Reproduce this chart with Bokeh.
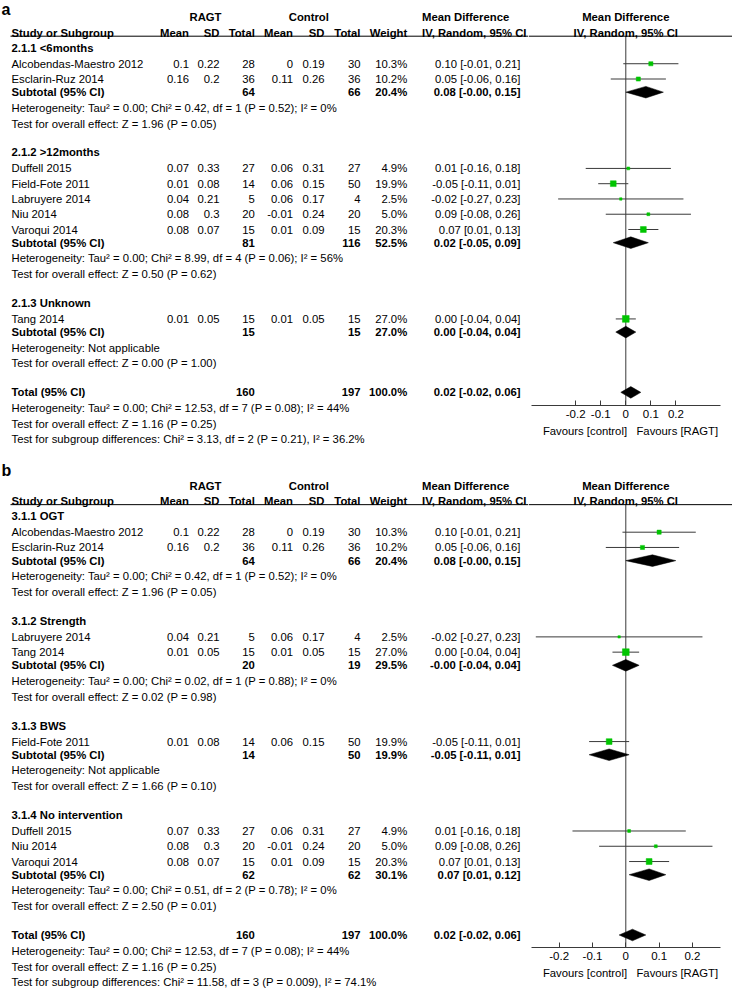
import math
from bokeh.plotting import figure
from bokeh.layouts import row, column
from bokeh.models import Range1d, FixedTicker, CustomJSTickFormatter, ColumnDataSource, Span
from bokeh.core.properties import value
from bokeh.embed import file_html
from bokeh.resources import INLINE

FONT = "Liberation Sans"
FS = "11.3px"
GREEN = "#00c400"
LINE = "#3a3a3a"

# ---------------- data ----------------
studies = ["Alcobendas-Maestro 2012", "Esclarin-Ruz 2014", "Duffell 2015", "Field-Fote 2011",
           "Labruyere 2014", "Niu 2014", "Varoqui 2014", "Tang 2014"]
ragt_mean = [0.1, 0.16, 0.07, 0.01, 0.04, 0.08, 0.08, 0.01]
ragt_sd = [0.22, 0.2, 0.33, 0.08, 0.21, 0.3, 0.07, 0.05]
ragt_n = [28, 36, 27, 14, 5, 20, 15, 15]
ctrl_mean = [0, 0.11, 0.06, 0.06, 0.06, -0.01, 0.01, 0.01]
ctrl_sd = [0.19, 0.26, 0.31, 0.15, 0.17, 0.24, 0.09, 0.05]
ctrl_n = [30, 36, 27, 50, 4, 20, 15, 15]
weight = [10.3, 10.2, 4.9, 19.9, 2.5, 5.0, 20.3, 27.0]
md = [0.10, 0.05, 0.01, -0.05, -0.02, 0.09, 0.07, 0.00]
ci_lo = [-0.01, -0.06, -0.16, -0.11, -0.27, -0.08, 0.01, -0.04]
ci_hi = [0.21, 0.16, 0.18, 0.01, 0.23, 0.26, 0.13, 0.04]

# panel a: subgroups by time since injury
a_groups = ["2.1.1 <6months", "2.1.2 >12months", "2.1.3 Unknown"]
a_members = [[0, 1], [2, 3, 4, 5, 6], [7]]
a_sub_n1 = [64, 81, 15]
a_sub_n2 = [66, 116, 15]
a_sub_w = [20.4, 52.5, 27.0]
a_sub_md = [0.08, 0.02, 0.00]
a_sub_lo = [-0.0, -0.05, -0.04]
a_sub_hi = [0.15, 0.09, 0.04]
a_tau = [0.00, 0.00, None]
a_chi = [0.42, 8.99, None]
a_df = [1, 4, None]
a_p = [0.52, 0.06, None]
a_i2 = [0, 56, None]
a_z = [1.96, 0.50, 0.00]
a_zp = [0.05, 0.62, 1.00]
a_subdiff = (3.13, 2, 0.21, 36.2)

# panel b: subgroups by control intervention
b_groups = ["3.1.1 OGT", "3.1.2 Strength", "3.1.3 BWS", "3.1.4 No intervention"]
b_members = [[0, 1], [4, 7], [3], [2, 5, 6]]
b_sub_n1 = [64, 20, 14, 62]
b_sub_n2 = [66, 19, 50, 62]
b_sub_w = [20.4, 29.5, 19.9, 30.1]
b_sub_md = [0.08, -0.0, -0.05, 0.07]
b_sub_lo = [-0.0, -0.04, -0.11, 0.01]
b_sub_hi = [0.15, 0.04, 0.01, 0.12]
b_tau = [0.00, 0.00, None, 0.00]
b_chi = [0.42, 0.02, None, 0.51]
b_df = [1, 1, None, 2]
b_p = [0.52, 0.88, None, 0.78]
b_i2 = [0, 0, None, 0]
b_z = [1.96, 0.02, 1.66, 2.50]
b_zp = [0.05, 0.98, 0.10, 0.01]
b_subdiff = (11.58, 3, 0.009, 74.1)

# overall
tot_n1, tot_n2, tot_w = 160, 197, 100.0
tot_md, tot_lo, tot_hi = 0.02, -0.02, 0.06
tot_tau, tot_chi, tot_df, tot_p, tot_i2 = 0.00, 12.53, 7, 0.08, 44
tot_z, tot_zp = 1.16, 0.25

ticks = [-0.2, -0.1, 0, 0.1, 0.2]


# ---------------- helpers ----------------
def fp(p):
    return f"{p:.2f}" if p >= 0.01 else f"{p:.3f}"

def het_text(tau, chi, df, p, i2):
    if chi is None:
        return "Heterogeneity: Not applicable"
    return f"Heterogeneity: Tau\u00b2 = {tau:.2f}; Chi\u00b2 = {chi:.2f}, df = {df} (P = {fp(p)}); I\u00b2 = {i2}%"

def z_text(z, p):
    return f"Test for overall effect: Z = {z:.2f} (P = {fp(p)})"

def ci_text(m, lo, hi):
    return f"{m:.2f} [{lo:.2f}, {hi:.2f}]"

def Y(y):
    return 30 + (y - 30) * 0.998

# column x positions (page pixels)
X_NAME = 11
X_M1, X_SD1, X_N1 = 188.5, 219, 254.3
X_M2, X_SD2, X_N2 = 292.5, 324, 360
X_W = 406.7
X_CI = 520
X_MDH = 421.5

PAGE_W = 732
TAB_W = 528               # table figure width (page x 0 .. 528)
FOR_W = PAGE_W - TAB_W    # forest figure width (page x 528 .. 732)
TOTAL_H = 990
SPLIT = 455               # page y where panel b's forest figure starts

items = {}

def T(x, y, s, align="left", bold=False, size=FS, baseline="middle"):
    key = (align, bold, size, baseline)
    d = items.setdefault(key, {"x": [], "y": [], "text": []})
    d["x"].append(x); d["y"].append(y); d["text"].append(s)


def build_panel(label, label_y, y_header, groups, members, sn1, sn2, sw, smd, slo, shi,
                tau, chi, dfs, ps, i2s, zs, zps, subdiff, axis_off):
    rows = []
    T(1, label_y, label, bold=True, size="16px", baseline="top")
    yh = Y(y_header)
    ytop = Y(y_header - 15.6)
    T(205, ytop, "RAGT", align="center", bold=True)
    T(308.3, ytop, "Control", align="center", bold=True)
    T(X_MDH, ytop, "Mean Difference", bold=True)
    T(X_NAME, yh, "Study or Subgroup", bold=True)
    for x, s in [(X_M1, "Mean"), (X_SD1, "SD"), (X_N1, "Total"), (X_M2, "Mean"),
                 (X_SD2, "SD"), (X_N2, "Total"), (X_W, "Weight")]:
        T(x, yh, s, align="right", bold=True)
    T(X_MDH, yh, "IV, Random, 95% CI", bold=True)
    underline = Y(y_header + 3.4)

    y = y_header + 15
    for gi, g in enumerate(groups):
        if gi > 0:
            y += 29
        T(X_NAME, Y(y), g, bold=True)
        y += 16
        for k, si in enumerate(members[gi]):
            if k > 0:
                y += 15.3
            yy = Y(y)
            T(X_NAME, yy, studies[si])
            T(X_M1, yy, f"{ragt_mean[si]:g}", align="right")
            T(X_SD1, yy, f"{ragt_sd[si]:g}", align="right")
            T(X_N1, yy, f"{ragt_n[si]}", align="right")
            T(X_M2, yy, f"{ctrl_mean[si]:g}", align="right")
            T(X_SD2, yy, f"{ctrl_sd[si]:g}", align="right")
            T(X_N2, yy, f"{ctrl_n[si]}", align="right")
            T(X_W, yy, f"{weight[si]:.1f}%", align="right")
            T(X_CI, yy, ci_text(md[si], ci_lo[si], ci_hi[si]), align="right")
            rows.append(("study", yy, si))
        y += 13.2
        yy = Y(y)
        T(X_NAME, yy, "Subtotal (95% CI)", bold=True)
        T(X_N1, yy, f"{sn1[gi]}", align="right", bold=True)
        T(X_N2, yy, f"{sn2[gi]}", align="right", bold=True)
        T(X_W, yy, f"{sw[gi]:.1f}%", align="right", bold=True)
        T(X_CI, yy, ci_text(smd[gi], slo[gi], shi[gi]), align="right", bold=True)
        rows.append(("diamond", yy, (smd[gi], slo[gi], shi[gi])))
        y += 15.6
        T(X_NAME, Y(y), het_text(tau[gi], chi[gi], dfs[gi], ps[gi], i2s[gi]))
        y += 15.8
        T(X_NAME, Y(y), z_text(zs[gi], zps[gi]))
    y += 29
    yy = Y(y)
    T(X_NAME, yy, "Total (95% CI)", bold=True)
    T(X_N1, yy, f"{tot_n1}", align="right", bold=True)
    T(X_N2, yy, f"{tot_n2}", align="right", bold=True)
    T(X_W, yy, f"{tot_w:.1f}%", align="right", bold=True)
    T(X_CI, yy, ci_text(tot_md, tot_lo, tot_hi), align="right", bold=True)
    rows.append(("diamond", yy, (tot_md, tot_lo, tot_hi)))
    axis_y = round(Y(y + axis_off))
    y += 16
    T(X_NAME, Y(y), het_text(tot_tau, tot_chi, tot_df, tot_p, tot_i2))
    y += 15.7
    T(X_NAME, Y(y), z_text(tot_z, tot_zp))
    y += 15
    c, d, p, i2 = subdiff
    T(X_NAME, Y(y), f"Test for subgroup differences: Chi\u00b2 = {c:.2f}, df = {d} (P = {fp(p)}), I\u00b2 = {i2:.1f}%")
    return rows, underline, axis_y, ytop, yh


rows_a, ul_a, ax_a, ytop_a, yh_a = build_panel(
    "a", 0, 32.3, a_groups, a_members, a_sub_n1, a_sub_n2, a_sub_w, a_sub_md, a_sub_lo, a_sub_hi,
    a_tau, a_chi, a_df, a_p, a_i2, a_z, a_zp, a_subdiff, 13)
rows_b, ul_b, ax_b, ytop_b, yh_b = build_panel(
    "b", Y(462), 501.7, b_groups, b_members, b_sub_n1, b_sub_n2, b_sub_w, b_sub_md, b_sub_lo, b_sub_hi,
    b_tau, b_chi, b_df, b_p, b_i2, b_z, b_zp, b_subdiff, 13)

# ---------------- table figure ----------------
tab = figure(width=TAB_W, height=TOTAL_H, x_range=Range1d(0, TAB_W), y_range=Range1d(TOTAL_H, 0),
             toolbar_location=None, output_backend="svg", min_border=0,
             x_axis_location=None, y_axis_location=None)
tab.grid.visible = False
tab.outline_line_color = None
tab.background_fill_color = "white"
tab.border_fill_color = "white"

for (align, bold, size, baseline), d in items.items():
    tab.text(x="x", y="y", text="text", source=ColumnDataSource(d), text_align=align,
             text_baseline=baseline, text_font=value(FONT), text_font_size=size,
             text_font_style="bold" if bold else "normal", text_color="#000000")

tab.segment(x0=[10, 10], y0=[ul_a, ul_b], x1=[TAB_W, TAB_W], y1=[ul_a, ul_b],
            line_color="#000000", line_width=1)


# ---------------- forest figures ----------------
def forest(rows, ul, axis_y, top, height, zero_px, px_per_unit, ytop, yh):
    left_px, right_px = TAB_W, PAGE_W
    x0 = (left_px - zero_px) / px_per_unit
    x1 = (right_px - zero_px) / px_per_unit
    p = figure(width=FOR_W, height=height, x_range=Range1d(x0, x1), y_range=Range1d(axis_y, top),
               toolbar_location=None, output_backend="svg", min_border=0,
               min_border_bottom=int(top + height - axis_y),
               x_axis_location="below", y_axis_location=None)
    p.grid.visible = False
    p.outline_line_color = None
    p.background_fill_color = "white"
    p.border_fill_color = "white"

    p.add_layout(Span(location=ul, dimension="width", line_color="#000000", line_width=1))
    p.segment(x0=[0], y0=[ul], x1=[0], y1=[axis_y], line_color=LINE, line_width=1)

    sy = [r[1] for r in rows if r[0] == "study"]
    si = [r[2] for r in rows if r[0] == "study"]
    src = ColumnDataSource(dict(y=sy, m=[md[i] for i in si], lo=[ci_lo[i] for i in si],
                                hi=[ci_hi[i] for i in si],
                                size=[max(2.4, 1.3 * math.sqrt(weight[i])) for i in si]))
    p.segment(x0="lo", y0="y", x1="hi", y1="y", source=src, line_color=LINE, line_width=1)
    p.scatter(x="m", y="y", size="size", marker="square", source=src,
              fill_color=GREEN, line_color=GREEN, line_width=0.5)

    xs, ys = [], []
    h = 5.8
    for r in rows:
        if r[0] == "diamond":
            m, lo, hi = r[2]
            xs.append([lo, m, hi, m])
            ys.append([r[1], r[1] - h, r[1], r[1] + h])
    p.patches(xs, ys, fill_color="#000000", line_color="#000000", line_width=0.5)

    p.text(x=[0, 0], y=[ytop, yh], text=["Mean Difference", "IV, Random, 95% CI"],
           text_align="center", text_baseline="middle", text_font=value(FONT),
           text_font_size=FS, text_font_style="bold", text_color="#000000")

    ax = p.xaxis[0]
    ax.ticker = FixedTicker(ticks=ticks, minor_ticks=[])
    ax.formatter = CustomJSTickFormatter(code="return tick == 0 ? '0' : tick.toFixed(1);")
    ax.bounds = ((531 - zero_px) / px_per_unit, (720 - zero_px) / px_per_unit)
    ax.axis_line_color = LINE
    ax.major_tick_line_color = LINE
    ax.major_tick_in = 5
    ax.major_tick_out = 0
    ax.minor_tick_line_color = None
    ax.major_label_standoff = 4
    ax.major_label_text_font = FONT
    ax.major_label_text_font_size = "11.5px"
    ax.major_label_text_color = "#000000"
    ax.axis_label = "Favours [control]\u00a0\u00a0\u00a0Favours [RAGT]"
    ax.axis_label_text_font = FONT
    ax.axis_label_text_font_size = FS
    ax.axis_label_text_font_style = "normal"
    ax.axis_label_text_color = "#000000"
    ax.axis_label_standoff = 4
    return p


fa = forest(rows_a, ul_a, ax_a, 0, SPLIT, 625.3, 250.6, ytop_a, yh_a)
fb = forest(rows_b, ul_b, ax_b, SPLIT, TOTAL_H - SPLIT, 625.3, 333.3, ytop_b, yh_b)

layout = row(tab, column(fa, fb))
open("out.html", "w").write(file_html(layout, INLINE))
